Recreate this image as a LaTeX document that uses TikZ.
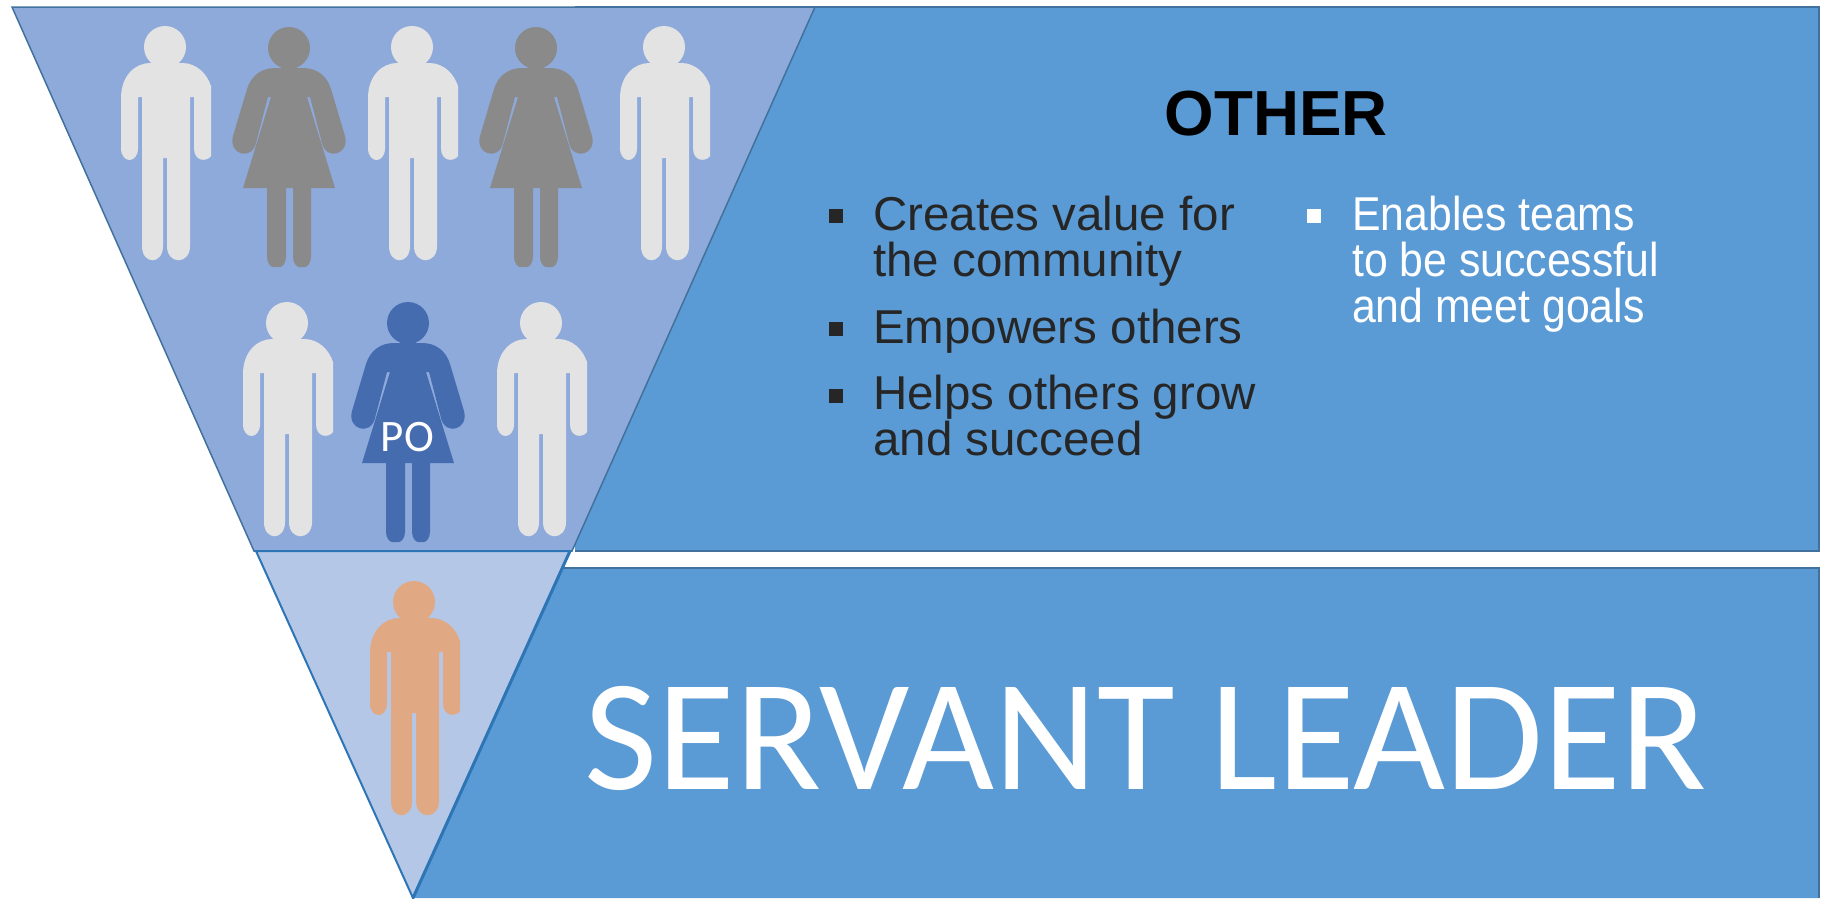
\documentclass[tikz,border=0pt]{standalone}
\usepackage{fontspec}
\setmainfont{Liberation Sans}
\newfontfamily\calib{Carlito}
\newfontfamily\narrowsans[FakeStretch=0.9]{Liberation Sans}
\definecolor{boxblue}{HTML}{5B9BD5}
\definecolor{edgeblue}{HTML}{41719C}
\definecolor{triedge}{HTML}{2E75B6}
\definecolor{upperfill}{HTML}{8EAADB}
\definecolor{lowerfill}{HTML}{B4C7E7}
\definecolor{mangrey}{HTML}{E3E3E3}
\definecolor{womangrey}{HTML}{8A8A8A}
\definecolor{pofill}{HTML}{466CB0}
\definecolor{leaderfill}{HTML}{E0A984}
\definecolor{txtdark}{HTML}{262626}
\tikzset{
  px/.style={x=1pt,y=-1pt},
  boxfill/.style={fill=boxblue},
  boxedge/.style={draw=edgeblue,line width=2pt},
  bullettext/.style={anchor=north west,inner sep=0pt,align=left,font=\narrowsans\fontsize{47.5}{46}\selectfont,text=txtdark},
  squarebullet/.style={anchor=center,inner sep=0pt,minimum size=14pt,fill=txtdark,shape=rectangle},
}
\newcommand{\manfig}[3]{%
 \begin{scope}[shift={(#1,#2)}]
  \fill[#3] (0,21) circle (21);
  \fill[#3] (-8,36) rectangle (10,46);
  \fill[#3]
   (-44,72)
   .. controls (-44,50) and (-30,37) .. (-15,37)
   -- (17,37)
   .. controls (32,37) and (42,48) .. (46,60)
   -- (46,130)
   .. controls (42,136) and (29,136) .. (29,122)
   -- (29,71) -- (25,71)
   -- (25,220)
   .. controls (25,239) and (2,239) .. (2,220)
   -- (2,132) -- (-2,132)
   -- (-2,220)
   .. controls (-2,239) and (-23,239) .. (-23,220)
   -- (-23,71) -- (-27,71)
   -- (-27,122)
   .. controls (-27,138) and (-44,138) .. (-44,122)
   -- cycle;
 \end{scope}}
\newcommand{\womanfig}[3]{%
 \begin{scope}[shift={(#1,#2)}]
  \fill[#3] (0,19) circle (21);
  \fill[#3] (-8,34) rectangle (8,46);
  \fill[#3]
   (-14,39) -- (14,39)
   .. controls (28,39) and (38,47) .. (42,60)
   -- (56,107)
   .. controls (61,126) and (37,132) .. (33,114)
   -- (21,68) -- (18,68)
   -- (46,159)
   -- (22,159) -- (22,228)
   .. controls (22,234) and (18,238) .. (16,238)
   -- (10,238)
   .. controls (8,238) and (4,234) .. (4,228)
   -- (4,159) -- (-3,159) -- (-3,228)
   .. controls (-3,234) and (-7,238) .. (-9,238)
   -- (-16,238)
   .. controls (-18,238) and (-22,234) .. (-22,228)
   -- (-22,159) -- (-46,159)
   -- (-18,68) -- (-21,68)
   -- (-33,114)
   .. controls (-37,132) and (-61,126) .. (-56,107)
   -- (-42,60)
   .. controls (-38,47) and (-28,39) .. (-14,39)
   -- cycle;
 \end{scope}}
\begin{document}
\begin{tikzpicture}[px]
\useasboundingbox (0,0) rectangle (1822,898);
% upper blue band
\path[boxfill] (575,7) rectangle (1819,551);
\draw[boxedge] (575,7) -- (1819,7) -- (1819,551) -- (575,551);
% lower blue band
\path[boxfill] (563,568) -- (1819,568) -- (1819,898) -- (413,898) -- cycle;
\draw[boxedge] (563,568) -- (1819,568) -- (1819,898);
% funnel
\path[fill=upperfill,draw=edgeblue,line width=1.5pt] (12,7) -- (815,7) -- (572,551) -- (254,551) -- cycle;
\path[fill=lowerfill,draw=triedge,line width=2pt] (256,551) -- (570,551) -- (413,898) -- cycle;
\draw[triedge,line width=2pt] (254,551) -- (572,551);
\draw[triedge,line width=3pt] (570,551) -- (413,898);
% people
\manfig{165}{26}{mangrey}
\womanfig{289}{29}{womangrey}
\manfig{412}{26}{mangrey}
\womanfig{536}{29}{womangrey}
\manfig{664}{26}{mangrey}
\manfig{287}{302}{mangrey}
\womanfig{408}{304}{pofill}
\manfig{541}{302}{mangrey}
\manfig{414}{581}{leaderfill}
\node[inner sep=0pt,text=white,font=\calib\fontsize{45}{48}\selectfont] (po) at (407.5,437) {PO};
\node[inner sep=0pt,font=\bfseries\fontsize{63.7}{70}\selectfont,text=black] (other) at (1276,114) {OTHER};
\node[bullettext,font=\fontsize{47.5}{46}\selectfont] (a) at (873,196) {Creates value for\\the community};
\node[bullettext,font=\fontsize{47.5}{46}\selectfont] (b) at (873,309) {Empowers others};
\node[bullettext,font=\fontsize{47.5}{46}\selectfont] (c) at (873,375) {Helps others grow\\and succeed};
\node[bullettext,text=white] (d) at (1352,196) {Enables teams\\to be successful\\and meet goals};
\node[squarebullet] (ba) at (836,215.5) {};
\node[squarebullet] (bb) at (836,329) {};
\node[squarebullet] (bc) at (836,395.5) {};
\node[squarebullet,fill=white] (bd) at (1314,215.5) {};
\node[inner sep=0pt,text=white,font=\calib\fontsize{159}{170}\selectfont] (leader) at (1146,738) {SERVANT LEADER};
\end{tikzpicture}
\end{document}
